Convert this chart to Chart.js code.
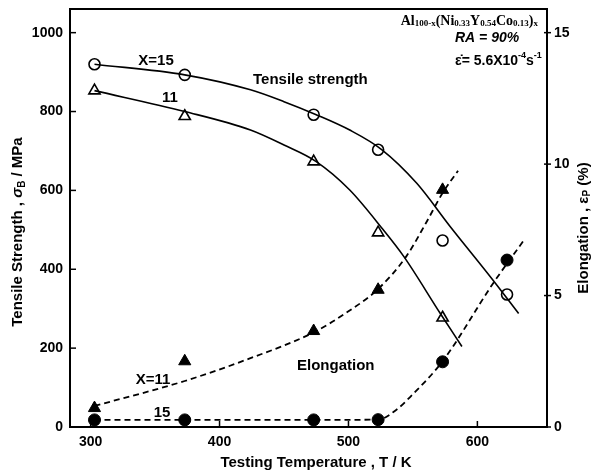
<!DOCTYPE html>
<html>
<head>
<meta charset="utf-8">
<script src="https://cdn.jsdelivr.net/npm/chart.js@4.4.1/dist/chart.umd.min.js"></script>
<style>
html, body { margin: 0; padding: 0; background: #fff; }
#chart { display: block; }
</style>
</head>
<body>
<canvas id="chart" width="597" height="472"></canvas>
<script>
const tempsK = [303, 373, 473, 523, 573, 623];
const strengthX15 = [920, 893, 792, 703, 473, 336];
const strengthX11 = [853, 788, 673, 493, 277];
const elongX15 = [0.27, 0.27, 0.27, 0.28, 2.48, 6.35];
const elongX11 = [0.72, 2.5, 3.65, 5.22, 9.02];

// hand drawn trend curves, also
const fitTempX15 = [303, 373, 424, 450, 475, 501, 526, 553, 579, 612, 632];
const fitStrX15 = [920, 893, 855, 825, 792, 753, 703, 618, 508, 373, 288];
const fitTempX11 = [303, 373, 424, 450, 475, 501, 527, 543, 571, 588];
const fitStrX11 = [853, 800, 753, 715, 673, 601, 500, 432, 289, 204];
const fitElTempX15 = [303, 373, 473, 523, 537, 549, 573, 612, 636];
const fitElX15 = [0.27, 0.27, 0.27, 0.28, 0.65, 1.2, 2.5, 5.45, 7.1];
const fitElTempX11 = [303, 373, 423, 473, 500, 523, 545, 560, 573, 585];
const fitElX11 = [0.8, 1.75, 2.6, 3.6, 4.4, 5.25, 6.5, 7.75, 8.9, 9.75];

const xTicks = [300, 400, 500, 600];
const yTicks = [0, 200, 400, 600, 800, 1000];
const y1Ticks = [0, 5, 10, 15];

const SANS = '"Liberation Sans", Arial, sans-serif';
const SERIF = '"Liberation Serif", "Times New Roman", serif';

function pts(xs, ys) {
    return ys.map((y, i) => ({ x: xs[i], y: y }));
}

function drawRuns(ctx, runs, x, y, align)
{
    let w = 0;
    runs.forEach(r => { ctx.font = r.font; w += ctx.measureText(r.t).width; });
    let cx = x;
    if (align === 'center') cx = x - w / 2;
    if (align === 'right') cx = x - w;
    ctx.textAlign = 'left';
    ctx.textBaseline = 'middle';
    runs.forEach(r => {
        ctx.font = r.font;
        ctx.fillText(r.t, cx, y + (r.dy || 0));
        cx += ctx.measureText(r.t).width;
    });
}

function seg(ctx, x1, y1, x2, y2)
{
    ctx.beginPath();
    ctx.moveTo(x1, y1);
    ctx.lineTo(x2, y2);
    ctx.stroke();
}

const decor = {
    id: 'decor',
    afterDraw(chart) {
        const ctx = chart.ctx;
        const a = chart.chartArea;
        const sx = chart.scales.x, sy = chart.scales.y, sy1 = chart.scales.y1;
        ctx.save();
        ctx.strokeStyle = '#000';
        ctx.fillStyle = '#000';
        ctx.lineWidth = 2;
        ctx.strokeRect(a.left, a.top, a.right - a.left, a.bottom - a.top);

        ctx.lineWidth = 1.5;
        xTicks.forEach(v => {
            const px = sx.getPixelForValue(v);
            seg(ctx, px, a.bottom, px, a.bottom - 6);
        });
        yTicks.forEach(v => {
            const py = sy.getPixelForValue(v);
            seg(ctx, a.left, py, a.left + 6, py);
        });
        y1Ticks.forEach(v => {
            const py = sy1.getPixelForValue(v);
            seg(ctx, a.right - 3, py, a.right + 4, py);
        });

        const b15 = 'bold 15px ' + SANS;
        const b10 = 'bold 10px ' + SANS;

        // axis titles
        drawRuns(ctx, [{ t: 'Testing Temperature , T / K', font: b15 }], 316, 463, 'center');

        ctx.save();
        ctx.translate(18, 232);
        ctx.rotate(-Math.PI / 2);
        drawRuns(ctx, [
            { t: 'Tensile Strength , ', font: b15 },
            { t: '\u03c3', font: 'italic bold 15px ' + SANS },
            { t: 'B', font: b10, dy: 4 },
            { t: ' / MPa', font: b15 }
        ], 0, 0, 'center');
        ctx.restore();

        ctx.save();
        ctx.translate(584, 228);
        ctx.rotate(-Math.PI / 2);
        drawRuns(ctx, [
            { t: 'Elongation , ', font: b15 },
            { t: '\u03b5', font: b15 },
            { t: 'P', font: b10, dy: 3 },
            { t: ' (%)', font: b15 }
        ], 0, 0, 'center');
        ctx.restore();

        // curve labels
        drawRuns(ctx, [{ t: 'X=15', font: b15 }], 156, 61, 'center');
        drawRuns(ctx, [{ t: '11', font: b15 }], 170, 98, 'center');
        drawRuns(ctx, [{ t: 'Tensile strength', font: b15 }], 253, 80, 'left');
        drawRuns(ctx, [{ t: 'X=11', font: b15 }], 153, 380, 'center');
        drawRuns(ctx, [{ t: '15', font: b15 }], 162, 413, 'center');
        drawRuns(ctx, [{ t: 'Elongation', font: b15 }], 297, 366, 'left');

        // alloy and test conditions
        const s13 = 'bold 14px ' + SERIF;
        const s8 = 'bold 9px ' + SERIF;
        drawRuns(ctx, [
            { t: 'Al', font: s13 }, { t: '100-x', font: s8, dy: 3 },
            { t: '(Ni', font: s13 }, { t: '0.33', font: s8, dy: 3 },
            { t: 'Y', font: s13 }, { t: '0.54', font: s8, dy: 3 },
            { t: 'Co', font: s13 }, { t: '0.13', font: s8, dy: 3 },
            { t: ')', font: s13 }, { t: 'x', font: s8, dy: 3 }
        ], 538, 21, 'right');
        drawRuns(ctx, [{ t: 'RA = 90%', font: 'italic bold 14px ' + SANS }], 455, 38, 'left');
        drawRuns(ctx, [
            { t: '\u03b5\u0307= 5.6X10', font: 'bold 14px ' + SANS },
            { t: '-4', font: 'bold 9px ' + SANS, dy: -5 },
            { t: 's', font: 'bold 14px ' + SANS },
            { t: '-1', font: 'bold 9px ' + SANS, dy: -5 }
        ], 455, 61, 'left');
        ctx.restore();
    }
};

const tickFont = { family: SANS, size: 14, weight: 'bold' };

function fixSize(prop, size) {
    return s => {
        s[prop] = size;
        s.paddingTop = 0; s.paddingBottom = 0;
        s.paddingLeft = 0; s.paddingRight = 0;
    };
}

function lineSet(xs, ys, axis, dashed) {
    return {
        data: pts(xs, ys), yAxisID: axis,
        borderColor: '#000', borderWidth: dashed ? 1.8 : 1.6,
        borderDash: dashed ? [6, 4] : [], pointRadius: 0,
        cubicInterpolationMode: 'monotone', fill: false
    };
}

function markSet(xs, ys, axis, style, radius, filled) {
    return {
        data: pts(xs, ys), yAxisID: axis, showLine: false,
        pointStyle: style, pointRadius: radius, pointBorderWidth: filled ? 1 : 1.6,
        pointBorderColor: '#000', pointBackgroundColor: filled ? '#000' : '#fff'
    };
}

new Chart(document.getElementById('chart'), {
    type: 'line',
    data: {
        datasets: [
            lineSet(fitTempX15, fitStrX15, 'y', false),
            lineSet(fitTempX11, fitStrX11, 'y', false),
            lineSet(fitElTempX15, fitElX15, 'y1', true),
            lineSet(fitElTempX11, fitElX11, 'y1', true),
            markSet(tempsK, strengthX15, 'y', 'circle', 5.5, false),
            markSet(tempsK, strengthX11, 'y', 'triangle', 6.5, false),
            markSet(tempsK, elongX15, 'y1', 'circle', 6, true),
            markSet(tempsK, elongX11, 'y1', 'triangle', 7, true)
        ]
    },
    options: {
        responsive: false,
        animation: false,
        layout: { padding: { top: 9, left: 0, right: 0, bottom: 0 } },
        plugins: { legend: { display: false }, tooltip: { enabled: false } },
        scales: {
            x: {
                type: 'linear', min: 284, max: 654,
                grid: { display: false, drawTicks: false }, border: { display: false },
                afterBuildTicks: s => { s.ticks = xTicks.map(v => ({ value: v })); },
                afterFit: fixSize('height', 45),
                ticks: { color: '#000', font: tickFont, padding: 7, maxRotation: 0, autoSkip: false,
                         callback: v => String(v) }
            },
            y: {
                position: 'left', min: 0, max: 1060,
                grid: { display: false, drawTicks: false }, border: { display: false },
                afterBuildTicks: s => { s.ticks = yTicks.map(v => ({ value: v })); },
                afterFit: fixSize('width', 70),
                ticks: { color: '#000', font: tickFont, padding: 7, autoSkip: false,
                         callback: v => String(v) }
            },
            y1: {
                position: 'right', min: 0, max: 15.9,
                grid: { display: false, drawTicks: false }, border: { display: false },
                afterBuildTicks: s => { s.ticks = y1Ticks.map(v => ({ value: v })); },
                afterFit: fixSize('width', 50),
                ticks: { color: '#000', font: tickFont, padding: 7, autoSkip: false,
                         callback: v => String(v) }
            }
        }
    },
    plugins: [decor]
});
</script>
</body>
</html>
